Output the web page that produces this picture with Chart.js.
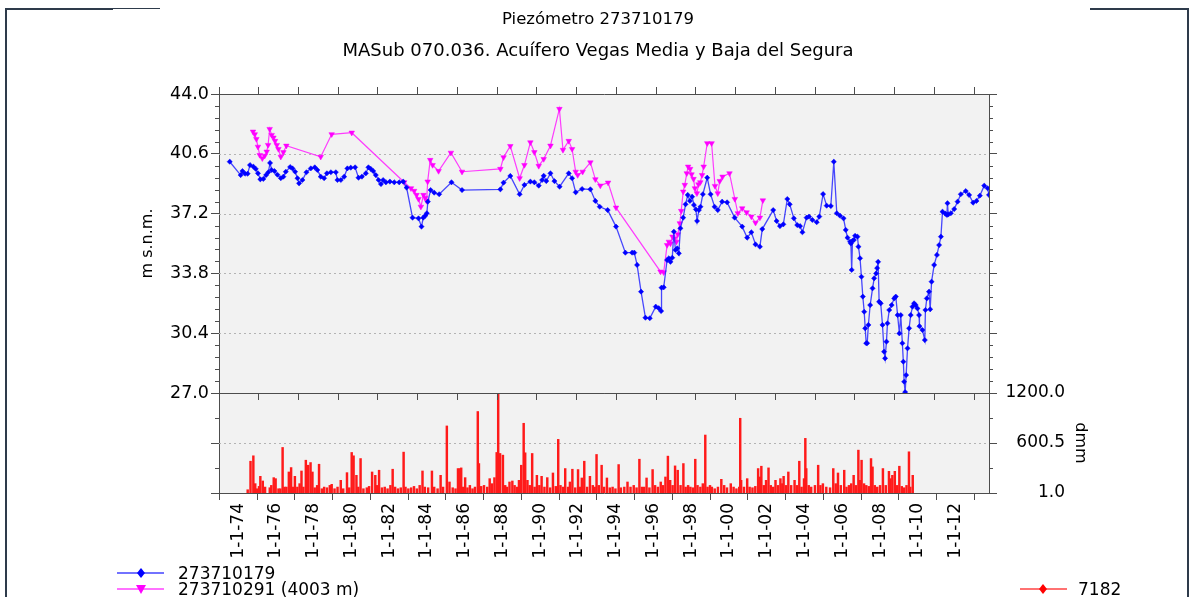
<!DOCTYPE html>
<html><head><meta charset="utf-8">
<script src="https://cdn.jsdelivr.net/npm/chart.js@4.4.1/dist/chart.umd.min.js"></script>
<style>
html,body{margin:0;padding:0;background:#fff;}
#wrap{position:relative;width:1196px;height:597px;overflow:hidden;font-family:"DejaVu Sans",sans-serif;}
canvas{position:absolute;left:0;}
#cA{top:0;z-index:2;}
#cB{top:373px;z-index:1;}
.fr{position:absolute;background:#2e3b4b;z-index:4;}
.lg{position:absolute;z-index:5;}
.lt{position:absolute;z-index:5;font-size:17px;line-height:18px;color:#000;white-space:nowrap;}
</style></head>
<body><div id="wrap">
<canvas id="cA" width="1196" height="410"></canvas>
<canvas id="cB" width="1196" height="224"></canvas>
<div class="fr" style="left:5px;top:8px;width:108px;height:2px"></div>
<div class="fr" style="left:113px;top:8px;width:47px;height:1px"></div>
<div class="fr" style="left:5px;top:8px;width:2px;height:589px"></div>
<div class="fr" style="left:1090px;top:8px;width:99px;height:2px"></div>
<div class="fr" style="left:1187px;top:8px;width:2px;height:589px"></div>
<svg class="lg" style="left:115px;top:565px" width="52" height="16"><line x1="2" y1="8" x2="49" y2="8" stroke="#7272ff" stroke-width="2"/><polygon points="26,3 30,8 26,13 22,8" fill="#0000ff"/></svg>
<div class="lt" id="lg1" style="left:178px;top:564px"></div>
<svg class="lg" style="left:115px;top:581px" width="52" height="16"><line x1="2" y1="8" x2="49" y2="8" stroke="#ff72ff" stroke-width="2"/><polygon points="21,4 31,4 26,13" fill="#ff00ff"/></svg>
<div class="lt" id="lg2" style="left:178px;top:580px"></div>
<svg class="lg" style="left:1018px;top:581px" width="52" height="16"><line x1="2" y1="8" x2="49" y2="8" stroke="#ff7272" stroke-width="2"/><polygon points="25,3 29,8 25,13 21,8" fill="#ff0000"/></svg>
<div class="lt" id="lg3" style="left:1078px;top:580px"></div>
</div>
<script>
// ---------------- data ----------------
const titleText = 'Piezómetro 273710179';
const subtitleText = 'MASub 070.036. Acuífero Vegas Media y Baja del Segura';
const seriesNames = ['273710179', '273710291 (4003 m)', '7182'];
const levelAxisTitle = 'm s.n.m.';
const rainAxisTitle = 'dmm';

const xTickYears = [1974,1976,1978,1980,1982,1984,1986,1988,1990,1992,1994,1996,1998,2000,2002,2004,2006,2008,2010,2012];
const levelTicks = [27.0, 30.4, 33.8, 37.2, 40.6, 44.0];
const rainTicks = [1.0, 600.5, 1200.0];

const blueDates = [
1974.54,1975.09,1975.18,1975.31,1975.44,1975.56,1975.73,1975.85,1975.96,1976.08,
1976.23,1976.37,1976.48,1976.57,1976.65,1976.79,1976.94,1977.11,1977.24,1977.36,
1977.58,1977.70,1977.83,1977.95,1978.03,1978.20,1978.40,1978.62,1978.82,1978.95,
1979.12,1979.29,1979.43,1979.63,1979.88,1979.96,1980.13,1980.30,1980.46,1980.63,
1980.85,1981.02,1981.19,1981.39,1981.52,1981.64,1981.76,1981.89,1982.03,1982.15,
1982.26,1982.40,1982.60,1982.82,1983.07,1983.27,1983.44,1983.74,1984.04,1984.19,
1984.28,1984.38,1984.46,1984.51,1984.65,1984.83,1985.08,1985.70,1986.23,1988.16,
1988.32,1988.66,1989.13,1989.37,1989.67,1989.87,1990.09,1990.26,1990.34,1990.47,
1990.68,1990.88,1991.14,1991.60,1991.77,1991.95,1992.27,1992.69,1992.94,1993.16,
1993.56,1993.98,1994.45,1994.79,1994.90,1995.04,1995.24,1995.46,1995.68,1995.98,
1996.13,1996.25,1996.27,1996.38,1996.55,1996.64,1996.72,1996.81,1996.89,1996.97,
1997.06,1997.14,1997.22,1997.36,1997.48,1997.59,1997.70,1997.81,1997.90,1998.00,
1998.06,1998.15,1998.23,1998.35,1998.57,1998.74,1998.94,1999.10,1999.32,1999.57,
1999.95,2000.33,2000.58,2000.79,2001.00,2001.22,2001.34,2001.89,2002.06,2002.23,
2002.40,2002.60,2002.72,2002.93,2003.10,2003.24,2003.36,2003.57,2003.69,2003.86,
2004.08,2004.21,2004.40,2004.58,2004.79,2004.94,2005.09,2005.25,2005.43,2005.54,
2005.63,2005.76,2005.80,2005.84,2005.88,2005.95,2006.01,2006.13,2006.18,2006.26,
2006.33,2006.40,2006.47,2006.52,2006.57,2006.62,2006.68,2006.77,2006.89,2006.97,
2007.07,2007.12,2007.17,2007.22,2007.30,2007.39,2007.47,2007.52,2007.59,2007.64,
2007.73,2007.85,2007.98,2008.06,2008.15,2008.24,2008.31,2008.39,2008.44,2008.48,
2008.53,2008.58,2008.65,2008.73,2008.81,2008.90,2008.98,2009.06,2009.15,2009.23,
2009.25,2009.40,2009.52,2009.55,2009.62,2009.73,2009.79,2009.86,2009.99,2010.13,
2010.24,2010.33,2010.41,2010.55,2010.63,2010.66,2010.70,2010.83,2011.00,2011.17,
2011.33,2011.58,2011.75,2011.95,2012.12,2012.29,2012.51,2012.68,2012.75];
const blueLevels = [
40.15,39.39,39.62,39.47,39.47,39.96,39.87,39.74,39.49,39.15,
39.17,39.39,39.55,40.08,39.68,39.62,39.41,39.21,39.30,39.58,
39.85,39.77,39.58,39.21,38.92,39.11,39.55,39.77,39.83,39.68,
39.30,39.21,39.49,39.55,39.55,39.11,39.11,39.30,39.77,39.81,
39.83,39.24,39.30,39.49,39.83,39.74,39.62,39.39,39.11,38.88,
39.11,38.98,39.02,38.98,38.98,39.02,38.68,36.97,36.93,36.46,
36.97,37.08,37.22,37.88,38.54,38.39,38.30,38.98,38.54,38.58,
38.96,39.34,38.30,38.83,39.02,38.98,38.79,39.11,39.35,39.05,
39.49,39.05,38.73,39.49,39.21,38.41,38.60,38.58,37.92,37.59,
37.40,36.46,34.98,34.98,34.98,34.28,32.76,31.28,31.25,31.91,
31.82,31.66,32.99,33.01,34.56,34.66,34.46,34.69,36.17,35.13,
35.23,34.94,36.36,36.97,37.73,38.26,37.92,38.16,37.69,37.44,
36.78,37.40,37.59,38.30,39.24,38.30,37.59,37.40,37.88,37.84,
36.97,36.46,35.83,36.14,35.45,35.32,36.32,37.40,36.78,36.49,
36.59,38.03,37.73,36.93,36.55,36.49,36.14,36.97,37.03,36.84,
36.71,37.03,38.31,37.65,37.63,40.15,37.22,37.08,36.93,36.27,
35.83,35.60,35.50,34.00,35.65,35.70,35.94,35.89,35.32,34.66,
33.61,32.48,31.62,30.68,29.83,29.83,30.87,32.00,32.95,33.52,
33.80,34.10,34.46,32.19,32.10,30.87,29.35,28.97,29.92,30.96,
31.72,32.00,32.38,32.48,31.43,30.39,31.43,29.83,28.78,27.64,
27.05,28.02,29.54,30.68,31.43,31.91,32.10,32.00,31.81,31.43,
30.80,30.58,30.01,31.72,32.38,32.76,31.76,33.33,34.28,34.85,
35.41,35.89,37.31,37.20,37.12,37.79,37.15,37.22,37.46,37.88,
38.30,38.48,38.26,37.82,37.92,38.22,38.79,38.64,38.26];

const pinkDates = [
1975.71,1975.80,1975.88,1975.96,1976.05,1976.18,1976.30,1976.40,1976.47,1976.55,
1976.65,1976.74,1976.82,1976.91,1976.99,1977.11,1977.24,1977.39,1979.12,1979.67,
1980.68,1983.32,1983.66,1983.82,1983.94,1984.04,1984.16,1984.29,1984.38,1984.45,
1984.50,1984.63,1984.75,1985.05,1985.67,1986.23,1988.16,1988.32,1988.66,1989.13,
1989.37,1989.67,1989.87,1990.09,1990.34,1990.68,1991.13,1991.31,1991.60,1991.77,
1991.95,1992.05,1992.30,1992.69,1992.94,1993.19,1993.58,1993.98,1996.22,1996.38,
1996.55,1996.64,1996.72,1996.82,1996.92,1997.02,1997.09,1997.19,1997.26,1997.36,
1997.44,1997.54,1997.61,1997.71,1997.78,1997.88,1997.95,1998.05,1998.13,1998.22,
1998.31,1998.39,1998.57,1998.79,1998.96,1999.10,1999.20,1999.34,1999.69,1999.96,
2000.11,2000.33,2000.55,2000.79,2001.00,2001.22,2001.37];
const pinkLevels = [
41.86,41.71,41.44,41.00,40.53,40.34,40.49,40.72,41.10,42.01,
41.67,41.52,41.33,41.10,40.87,40.43,40.69,41.06,40.43,41.71,
41.80,38.98,38.64,38.49,38.26,38.03,37.59,38.26,38.10,37.92,
39.02,40.25,39.96,39.62,40.66,39.58,39.74,40.40,41.04,39.21,
39.96,41.25,40.69,39.91,40.30,41.06,43.15,40.82,41.33,40.87,
39.58,39.39,39.58,40.11,39.15,38.79,38.96,37.54,33.90,33.86,
35.41,35.60,35.50,35.89,35.79,35.60,36.02,36.65,37.35,38.45,
38.83,39.49,39.87,39.74,39.43,39.17,38.64,38.35,38.86,38.98,
39.39,39.87,41.20,41.20,38.77,38.35,39.05,39.30,39.49,38.03,
37.22,37.50,37.27,37.03,36.68,36.97,37.95];

const rainDates = [
1974.50,1974.65,1974.80,1974.90,1975.00,1975.10,1975.17,1975.30,1975.42,1975.67,
1975.75,1975.88,1975.98,1976.13,1976.23,1976.35,1976.45,1976.55,1976.68,1976.80,
1976.90,1977.00,1977.13,1977.25,1977.35,1977.45,1977.58,1977.70,1977.83,1977.93,
1978.05,1978.18,1978.28,1978.43,1978.55,1978.70,1978.85,1978.95,1979.10,1979.26,
1979.43,1979.56,1979.76,1979.88,1980.01,1980.11,1980.26,1980.36,1980.48,1980.63,
1980.81,1980.93,1981.09,1981.26,1981.36,1981.46,1981.61,1981.76,1981.91,1982.06,
1982.18,1982.31,1982.46,1982.61,1982.76,1982.86,1983.01,1983.16,1983.31,1983.46,
1983.61,1983.76,1983.88,1984.06,1984.26,1984.38,1984.56,1984.72,1984.85,1985.05,
1985.19,1985.36,1985.51,1985.64,1985.74,1985.81,1985.91,1986.02,1986.14,1986.27,
1986.41,1986.54,1986.69,1986.75,1986.87,1987.02,1987.19,1987.32,1987.44,1987.57,
1987.69,1987.77,1987.87,1988.02,1988.14,1988.24,1988.37,1988.52,1988.64,1988.77,
1988.87,1988.99,1989.12,1989.20,1989.32,1989.44,1989.57,1989.70,1989.82,1989.95,
1990.07,1990.22,1990.37,1990.52,1990.67,1990.82,1990.95,1991.07,1991.20,1991.32,
1991.47,1991.57,1991.70,1991.85,1992.00,1992.10,1992.20,1992.33,1992.48,1992.63,
1992.78,1992.88,1992.98,1993.10,1993.25,1993.38,1993.53,1993.68,1993.83,1993.98,
1994.15,1994.27,1994.45,1994.62,1994.78,1994.95,1995.10,1995.25,1995.38,1995.50,
1995.63,1995.78,1995.95,1996.08,1996.23,1996.38,1996.50,1996.63,1996.76,1996.88,
1997.01,1997.14,1997.28,1997.43,1997.58,1997.70,1997.83,1997.95,1998.08,1998.21,
1998.33,1998.48,1998.61,1998.74,1998.86,1998.99,1999.09,1999.24,1999.41,1999.59,
1999.74,1999.89,2000.09,2000.24,2000.39,2000.54,2000.59,2000.64,2000.79,2000.96,
2001.09,2001.24,2001.39,2001.54,2001.64,2001.71,2001.84,2001.96,2002.09,2002.21,
2002.34,2002.46,2002.59,2002.72,2002.82,2002.89,2003.02,2003.14,2003.29,2003.47,
2003.59,2003.72,2003.84,2003.97,2004.04,2004.09,2004.22,2004.35,2004.55,2004.72,
2004.84,2004.97,2005.15,2005.35,2005.52,2005.65,2005.77,2005.92,2006.10,2006.22,
2006.35,2006.47,2006.60,2006.72,2006.85,2006.92,2007.02,2007.15,2007.27,2007.40,
2007.52,2007.60,2007.72,2007.85,2008.00,2008.15,2008.30,2008.47,2008.55,2008.65,
2008.78,2008.90,2009.02,2009.15,2009.27,2009.40,2009.53,2009.60,2009.73];
const rainValues = [
40,382,447,113,52,80,201,145,72,64,
92,185,173,52,52,547,72,72,253,306,
72,201,72,113,265,72,394,334,366,253,
64,92,346,52,72,64,92,105,52,72,
153,52,245,64,487,447,213,72,414,52,
64,80,253,213,92,274,64,72,52,92,
286,72,52,64,491,72,52,64,80,52,
92,265,72,64,265,72,52,213,72,805,
133,64,52,294,294,302,72,185,64,92,
52,72,978,354,80,92,72,173,113,185,
487,1199,475,455,92,72,133,145,92,72,
153,334,837,483,153,92,475,72,213,92,
201,72,185,64,241,80,644,92,72,294,
72,133,286,64,282,72,181,382,72,201,
92,72,463,92,334,72,181,64,72,52,
342,64,72,133,72,92,64,406,72,72,
181,64,282,92,72,133,92,193,443,153,
92,326,274,92,354,72,92,72,64,406,
92,72,113,696,72,92,72,52,72,165,
92,64,113,72,52,72,897,153,72,173,
72,64,80,294,193,322,92,153,302,92,
72,153,92,173,113,201,92,253,92,153,
92,382,72,173,656,294,92,72,92,334,
92,113,72,64,294,113,241,92,274,72,
92,113,213,92,515,153,394,113,92,80,
414,314,92,72,92,294,92,261,173,213,
261,92,322,80,64,92,495,72,213];

// ---------------- setup ----------------
const FONT = '"DejaVu Sans", sans-serif';
const X_MIN = 1974, X_MAX = 2012.75;
const AXIS_COLOR = '#4d4d4d';
Chart.defaults.font.family = FONT;
Chart.defaults.color = '#000';

document.getElementById('lg1').textContent = seriesNames[0];
document.getElementById('lg2').textContent = seriesNames[1];
document.getElementById('lg3').textContent = seriesNames[2];

function minorsOf(majors, parts) {
  const out = [];
  for (let i = 0; i < majors.length - 1; i++) {
    for (let k = 1; k < parts; k++) out.push(majors[i] + (majors[i+1] - majors[i]) * k / parts);
  }
  return out;
}

const deco = {
  id: 'deco',
  beforeDraw(chart, args, o) {
    const {ctx, chartArea: a} = chart;
    ctx.save();
    ctx.fillStyle = '#f2f2f2';
    ctx.fillRect(a.left, a.top, a.right - a.left, a.bottom - a.top);
    ctx.restore();
  },
  beforeDatasetsDraw(chart, args, o) {
    const {ctx, chartArea: a} = chart;
    const s = chart.scales[o.axis];
    ctx.save();
    ctx.strokeStyle = '#b4b4b4'; ctx.lineWidth = 1; ctx.setLineDash([2, 3]);
    o.grid.forEach(v => {
      const y = Math.round(s.getPixelForValue(v)) + 0.5;
      ctx.beginPath(); ctx.moveTo(a.left, y); ctx.lineTo(a.right, y); ctx.stroke();
    });
    ctx.restore();
  },
  afterDraw(chart, args, o) {
    const {ctx} = chart;
    ctx.save();
    ctx.strokeStyle = AXIS_COLOR; ctx.lineWidth = 1;
    (o.minor || []).forEach(m => {
      const s = chart.scales[m.axis];
      m.values.forEach(v => {
        const y = Math.round(s.getPixelForValue(v)) + 0.5;
        ctx.beginPath();
        if (s.position === 'left') { ctx.moveTo(s.right - 4, y); ctx.lineTo(s.right, y); }
        else { ctx.moveTo(s.left, y); ctx.lineTo(s.left + 4, y); }
        ctx.stroke();
      });
    });
    if (o.sideTitle) {
      ctx.fillStyle = '#000';
      ctx.font = '16px ' + FONT;
      ctx.textAlign = 'center'; ctx.textBaseline = 'middle';
      const s = chart.scales[o.sideTitle.axis];
      ctx.translate(o.sideTitle.x, (s.top + s.bottom) / 2);
      ctx.rotate(Math.PI / 2);
      ctx.fillText(o.sideTitle.text, 0, 0);
    }
    ctx.restore();
  }
};

function xAxis(pos, labels, h, tl) {
  return {
    type: 'linear', position: pos, min: X_MIN, max: X_MAX,
    afterBuildTicks: s => { s.ticks = xTickYears.map(v => ({value: v})); },
    afterFit: s => { s.height = h; },
    grid: {drawOnChartArea: false, drawTicks: true, tickLength: tl, tickColor: AXIS_COLOR, color: AXIS_COLOR},
    border: {display: true, color: AXIS_COLOR, width: 1},
    ticks: {autoSkip: false, maxRotation: 90, minRotation: 90, padding: 3, color: '#000',
      font: {family: FONT, size: 17},
      callback: v => labels ? '1-1-' + String(Math.round(v) % 100).padStart(2, '0') : ''}
  };
}
function yAxis(pos, min, max, majors, w, labels, extra) {
  return Object.assign({
    type: 'linear', position: pos, min: min, max: max,
    afterBuildTicks: s => { s.ticks = majors.map(v => ({value: v})); },
    afterFit: s => { s.width = w; },
    grid: {drawOnChartArea: false, drawTicks: true, tickLength: 8, tickColor: AXIS_COLOR, color: AXIS_COLOR},
    border: {display: true, color: AXIS_COLOR, width: 1},
    ticks: {autoSkip: false, padding: 2, color: '#000', font: {family: FONT, size: 17.5},
      callback: v => labels ? v.toFixed(1) : ''}
  }, extra || {});
}

// ---------------- top panel: levels ----------------
new Chart(document.getElementById('cA'), {
  type: 'line',
  data: {
    datasets: [
      {label: seriesNames[0], data: blueDates.map((d, i) => ({x: d, y: blueLevels[i]})),
       borderColor: 'rgba(40,40,255,0.85)', borderWidth: 1.3, tension: 0,
       pointStyle: 'rectRot', pointRadius: 2.6, pointBackgroundColor: '#0000ff', pointBorderColor: '#0000ff', pointBorderWidth: 0.5},
      {label: seriesNames[1], data: pinkDates.map((d, i) => ({x: d, y: pinkLevels[i]})),
       borderColor: 'rgba(255,40,255,0.9)', borderWidth: 1.2, tension: 0,
       pointStyle: 'triangle', pointRotation: 180, pointRadius: 3.2, pointBackgroundColor: '#ff00ff', pointBorderColor: '#ff00ff', pointBorderWidth: 0.5}
    ]
  },
  options: {
    responsive: false, animation: false, devicePixelRatio: 1,
    layout: {padding: 0},
    scales: {
      x: xAxis('bottom', false, 17, 7),
      xTop: xAxis('top', false, 21.6, 7),
      y: yAxis('left', 27, 44, levelTicks, 219, true, {
        title: {display: true, text: levelAxisTitle, color: '#000', font: {family: FONT, size: 16}, padding: {top: 138, bottom: 0}}
      }),
      yR: yAxis('right', 27, 44, levelTicks, 207, false)
    },
    plugins: {
      legend: {display: false}, tooltip: {enabled: false},
      title: {display: true, text: titleText, color: '#000', font: {family: FONT, size: 16.5, weight: 'normal'}, padding: {top: 10, bottom: 11}},
      subtitle: {display: true, text: subtitleText, color: '#000', font: {family: FONT, size: 18, weight: 'normal'}, padding: {top: 0, bottom: 10}},
      deco: {axis: 'y', grid: levelTicks.slice(1, -1),
        minor: [{axis: 'y', values: minorsOf(levelTicks, 5)}, {axis: 'yR', values: minorsOf(levelTicks, 5)}]}
    }
  },
  plugins: [deco]
});

// ---------------- bottom panel: rainfall ----------------
new Chart(document.getElementById('cB'), {
  type: 'bar',
  data: {
    datasets: [
      {label: seriesNames[2], data: rainDates.map((d, i) => ({x: d, y: rainValues[i]})),
       backgroundColor: '#ff1a1a', borderWidth: 0, barThickness: 1.8, yAxisID: 'yR'}
    ]
  },
  options: {
    responsive: false, animation: false, devicePixelRatio: 1,
    layout: {padding: {left: 0, right: 131, top: 0, bottom: 0}},
    scales: {
      x: xAxis('bottom', true, 104, 7),
      xTop: xAxis('top', false, 20, 6),
      yL: yAxis('left', 1, 1200, rainTicks, 219, false),
      yR: yAxis('right', 1, 1200, rainTicks, 76, true, {
        ticks: {autoSkip: false, padding: 8.5, crossAlign: 'far', color: '#000', font: {family: FONT, size: 17},
          callback: v => v.toFixed(1)}
      })
    },
    plugins: {
      legend: {display: false}, tooltip: {enabled: false},
      deco: {axis: 'yR', grid: [rainTicks[1]],
        minor: [{axis: 'yL', values: minorsOf(rainTicks, 2)}, {axis: 'yR', values: minorsOf(rainTicks, 2)}],
        sideTitle: {axis: 'yR', x: 1080, text: rainAxisTitle}}
    }
  },
  plugins: [deco]
});
</script>
</body></html>
